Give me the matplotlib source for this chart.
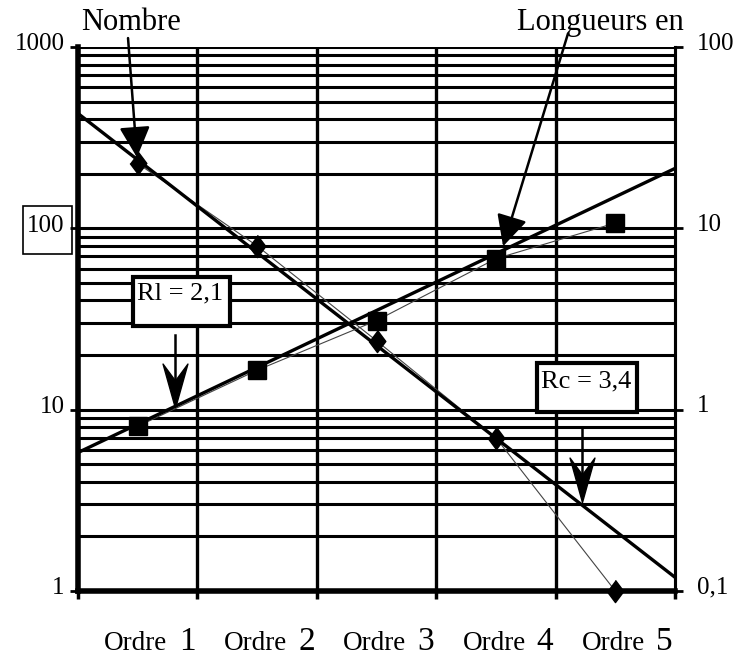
import numpy as np
import matplotlib
matplotlib.use("Agg")
import matplotlib.pyplot as plt
from matplotlib.patches import Rectangle

plt.rcParams['font.family'] = ['Liberation Serif', 'DejaVu Serif']

# data
ordres = [1, 2, 3, 4, 5]
ordre_labels = ['1', '2', '3', '4', '5']
nombre = [228, 80, 24, 7, 1]              # left axis
longueur = [0.81, 1.65, 3.1, 6.8, 10.7]   # right axis
fit_x = [0.5, 5.5]
nombre_fit = [430, 1.19]
longueur_fit = [0.58, 21.4]
left_ticks = [1, 10, 100, 1000]
left_labels = ['1', '10', '100', '1000']
right_ticks = [0.1, 1, 10, 100]
right_labels = ['0,1', '1', '10', '100']

W, H = 738, 659
fig = plt.figure(figsize=(W / 100, H / 100), dpi=100)
ax = fig.add_axes([78 / W, 1 - 591 / H, (675 - 78) / W, (591 - 47) / H])
ax.set_xlim(0.5, 5.5)
ax.set_yscale('log')
ax.set_ylim(1, 1000)

# horizontal grid on every 1..9 of each decade
minor = [m * 10 ** d for d in range(3) for m in range(2, 10)]
ax.set_yticks(left_ticks)
ax.set_yticks(minor, minor=True)
ax.set_yticklabels([])
ax.set_yticklabels([], minor=True)
ax.yaxis.grid(True, which='both', color='k', lw=2.2)
ax.tick_params(axis='y', which='minor', length=0)
ax.tick_params(axis='y', which='major', length=6, width=2, direction='out')
for b in [1.5, 2.5, 3.5, 4.5]:
    ax.axvline(b, color='k', lw=2.4, zorder=1)
ax.set_xticks([0.5, 1.5, 2.5, 3.5, 4.5, 5.5])
ax.set_xticklabels([])
ax.tick_params(axis='x', length=6, width=2.5, direction='out')
ax.spines['top'].set_visible(False)
ax.spines['left'].set_linewidth(4)
ax.spines['bottom'].set_linewidth(4)
ax.spines['right'].set_linewidth(2.2)
ax.set_axisbelow(True)

ax2 = ax.twinx()
ax2.set_yscale('log')
ax2.set_ylim(0.1, 100)
ax2.set_yticks(right_ticks)
ax2.set_yticklabels([])
ax2.yaxis.set_minor_locator(matplotlib.ticker.NullLocator())
ax2.tick_params(axis='y', length=6, width=2, direction='out')
for s in ['top', 'left', 'bottom']:
    ax2.spines[s].set_visible(False)
ax2.spines['right'].set_linewidth(2.2)

# tick labels
for v, t in zip(left_ticks, left_labels):
    ax.annotate(t, xy=(0, v), xycoords=('axes fraction', 'data'), xytext=(-9.5, -2.5),
                textcoords='offset points', ha='right', va='baseline', fontsize=18)
for v, t in zip(right_ticks, right_labels):
    ax2.annotate(t, xy=(1, v), xycoords=('axes fraction', 'data'), xytext=(15.5, -2),
                 textcoords='offset points', ha='left', va='baseline', fontsize=18)
for c, t in zip(ordres, ordre_labels):
    ax.annotate('Ordre', xy=(c, 0), xycoords=('data', 'axes fraction'), xytext=(21.5, -42.5),
                textcoords='offset points', ha='right', va='baseline', fontsize=19.5)
    ax.annotate(t, xy=(c, 0), xycoords=('data', 'axes fraction'), xytext=(29.5, -42.5),
                textcoords='offset points', ha='left', va='baseline', fontsize=24)

# box around left "100"
fig.patches.append(Rectangle((23 / W, 1 - 254 / H), 49 / W, 48 / H, transform=fig.transFigure,
                             fill=False, ec='k', lw=1.2))

# series
ax.plot(ordres, nombre, color='#444444', lw=0.8, zorder=3)
ax.plot(fit_x, nombre_fit, color='k', lw=2.4, zorder=4)
diamond = [(0, 1), (0.75, 0), (0, -1), (-0.75, 0)]
ax.plot(ordres, nombre, ls='none', marker=diamond, ms=16, color='k', zorder=5, clip_on=False)

ax2.plot(ordres, longueur, color='#444444', lw=0.8, zorder=3)
ax2.plot(fit_x, longueur_fit, color='k', lw=2.4, zorder=4)
ax2.plot(ordres, longueur, ls='none', marker='s', ms=12.5, color='k', zorder=5, clip_on=False)

# labels with arrows
ax2.text(0.944, 136, 'Nombre', fontsize=22, ha='center', va='center')
ax2.text(4.872, 136, 'Longueurs en', fontsize=22, ha='center', va='center')
tri = dict(arrowstyle='-|>,head_length=1.0,head_width=0.5', mutation_scale=19,
           color='k', lw=1.8, shrinkA=0, shrinkB=0)
ax2.annotate('', xy=(0.994, 24.6), xytext=(0.919, 112), arrowprops=tri, annotation_clip=False)
ax2.annotate('', xy=(4.06, 7.96), xytext=(4.604, 118.7), arrowprops=tri, annotation_clip=False)

# R boxes
for (x0, y0, x1, y1, ty, txt) in [(133, 277, 230, 326, 293, 'Rl = 2,1'),
                                   (537, 363, 637, 412, 381, 'Rc = 3,4')]:
    fig.patches.append(Rectangle((x0 / W, 1 - y1 / H), (x1 - x0) / W, (y1 - y0) / H,
                                 transform=fig.transFigure, fc='white', ec='k', lw=3))
    fig.text((x0 + 4) / W, 1 - ty / H, txt, fontsize=19, ha='left', va='center')

stealth = [(0, 0), (-0.28, 1), (0, 0.62), (0.28, 1), (0, 0)]
for xa, ys, yt in [(1.312, 25.7, 10.2), (4.721, 7.91, 3.09)]:
    ax.plot([xa, xa], [ys, yt * 1.3], color='k', lw=1.8, zorder=6)
    ax.plot([xa], [yt], ls='none', marker=stealth, ms=64, color='k', zorder=7)

fig.savefig('out.png', dpi=100)
